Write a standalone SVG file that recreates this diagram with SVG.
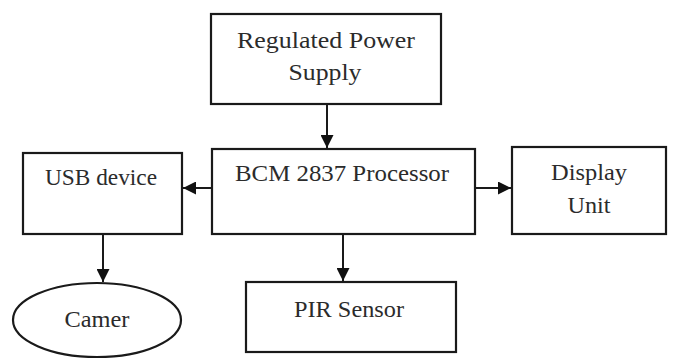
<svg xmlns="http://www.w3.org/2000/svg" width="673" height="360" viewBox="0 0 673 360">
<style>
.box{fill:#fff;stroke:#1a1a1a;stroke-width:2.2}
.t{font-family:"Liberation Serif","Times New Roman",serif;font-size:23px;fill:#2b2b2b;text-anchor:middle}
.c{stroke:#1a1a1a;stroke-width:2;fill:none;marker-end:url(#ah)}
</style>
<defs>
<marker id="ah" viewBox="0 0 10 10" refX="10" refY="5" markerWidth="13" markerHeight="13" markerUnits="userSpaceOnUse" orient="auto">
<path d="M0,0 L10,5 L0,10 Z" fill="#111"/>
</marker>
</defs>
<rect width="673" height="360" fill="#fff"/>
<g id="power">
<rect class="box" x="211" y="14" width="230" height="90"/>
<text class="t" x="326" y="48" textLength="178" lengthAdjust="spacingAndGlyphs">Regulated Power</text>
<text class="t" x="325" y="80" textLength="73" lengthAdjust="spacingAndGlyphs">Supply</text>
</g>
<g id="processor">
<rect class="box" x="212" y="149" width="263" height="85"/>
<text class="t" x="342" y="181" textLength="214" lengthAdjust="spacingAndGlyphs">BCM 2837 Processor</text>
</g>
<g id="usb">
<rect class="box" x="23" y="153" width="159" height="81"/>
<text class="t" x="101" y="185" textLength="112" lengthAdjust="spacingAndGlyphs">USB device</text>
</g>
<g id="display">
<rect class="box" x="512" y="147" width="154" height="87"/>
<text class="t" x="589" y="180" textLength="76" lengthAdjust="spacingAndGlyphs">Display</text>
<text class="t" x="589" y="213" textLength="43" lengthAdjust="spacingAndGlyphs">Unit</text>
</g>
<g id="camera">
<ellipse class="box" cx="97" cy="320" rx="84" ry="37"/>
<text class="t" x="97" y="327" textLength="65" lengthAdjust="spacingAndGlyphs">Camer</text>
</g>
<g id="pir">
<rect class="box" x="246" y="282" width="210" height="70"/>
<text class="t" x="349" y="317" textLength="110" lengthAdjust="spacingAndGlyphs">PIR Sensor</text>
</g>
<g id="connectors">
<line class="c" x1="327" y1="104" x2="327" y2="148"/>
<line class="c" x1="212" y1="188" x2="183" y2="188"/>
<line class="c" x1="475" y1="188" x2="511" y2="188"/>
<line class="c" x1="103" y1="234" x2="103" y2="282"/>
<line class="c" x1="343" y1="234" x2="343" y2="281"/>
</g>
</svg>
